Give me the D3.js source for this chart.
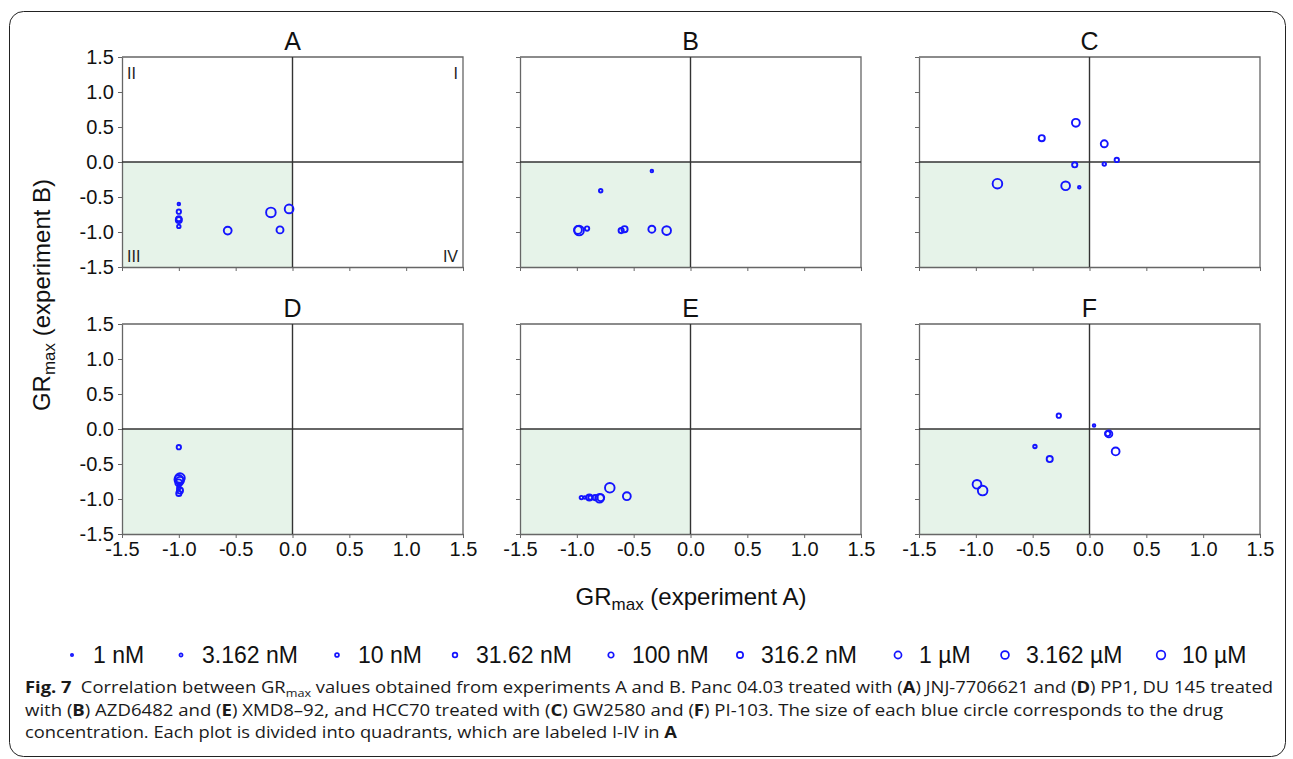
<!DOCTYPE html>
<html>
<head>
<meta charset="utf-8">
<script src="https://cdn.jsdelivr.net/npm/d3@7"></script>
<style>
  body { margin: 0; background: #fff; }
  svg { display: block; font-family: "Liberation Sans", Arial, sans-serif; }
</style>
</head>
<body>
<div id="chart"></div>
<script>
// 1. data (each array ordered by concentration, 1 nM ... 10 µM)
var concLabels = ["1 nM", "3.162 nM", "10 nM", "31.62 nM", "100 nM", "316.2 nM", "1 µM", "3.162 µM", "10 µM"];
var ticks = [-1.5, -1.0, -0.5, 0.0, 0.5, 1.0, 1.5];
var panelNames = ["A", "B", "C", "D", "E", "F"];

var xA = [-1.00, -1.00, -1.00, -1.00, -1.00, -0.11, -0.57, -0.03, -0.19];
var yA = [-0.60, -0.92, -0.71, -0.81, -0.83, -0.97, -0.98, -0.67, -0.72];
var xB = [-0.34, -0.79, -0.91, -0.61, -0.58, -0.34, -0.99, -0.21, -0.98];
var yB = [-0.13, -0.41, -0.95, -0.98, -0.96, -0.96, -0.97, -0.98, -0.98];
var xC = [-0.09, 0.13, 0.24, -0.13, -0.42, 0.13, -0.12, -0.21, -0.81];
var yC = [-0.36, -0.03, 0.03, -0.04, 0.34, 0.26, 0.56, -0.34, -0.31];
var xD = [-1.00, -1.00, -1.00, -1.00, -0.99, -1.00, -0.99, -1.00, -0.99];
var yD = [-0.80, -0.84, -0.26, -0.92, -0.88, -0.77, -0.74, -0.72, -0.70];
var xE = [-0.93, -0.96, -0.88, -0.84, -0.89, -0.79, -0.56, -0.80, -0.71];
var yE = [-0.98, -0.98, -0.98, -0.98, -0.98, -0.98, -0.96, -0.99, -0.84];
var xF = [0.04, -0.48, -0.27, 0.16, -0.35, 0.17, 0.23, -0.99, -0.94];
var yF = [0.05, -0.25, 0.19, -0.065, -0.43, -0.07, -0.32, -0.79, -0.88];

var panelX = [xA, xB, xC, xD, xE, xF];
var panelY = [yA, yB, yC, yD, yE, yF];

// 2. layout
var width = 1293, height = 759;
var colLeft = [122, 520, 919];
var rowTop = [57, 324];
var pw = 341, ph = 210;
var blue = "#1414ff";

var svg = d3.select("#chart").append("svg")
  .attr("width", width)
  .attr("height", height);

svg.append("rect")
  .attr("x", 9.5).attr("y", 11.5)
  .attr("width", 1276).attr("height", 745)
  .attr("rx", 14)
  .attr("fill", "#fff")
  .attr("stroke", "#222")
  .attr("stroke-width", 1);

var rScale = d3.scaleLinear().domain([0, 8]).range([1.3, 4.8]);

panelNames.forEach(function(name, i) {
  var col = i % 3, row = Math.floor(i / 3);
  var x = d3.scaleLinear().domain([-1.5, 1.5]).range([colLeft[col], colLeft[col] + pw]);
  var y = d3.scaleLinear().domain([-1.5, 1.5]).range([rowTop[row] + ph, rowTop[row]]);
  var g = svg.append("g");

  // quadrant III shading
  g.append("rect")
    .attr("x", x(-1.5)).attr("y", y(0))
    .attr("width", x(0) - x(-1.5)).attr("height", y(-1.5) - y(0))
    .attr("fill", "#e6f3e9");

  // axes
  var yAxis = d3.axisLeft(y).tickValues(ticks).tickSize(4).tickSizeOuter(0);
  var xAxis = d3.axisBottom(x).tickValues(ticks).tickSize(4).tickSizeOuter(0);

  var ya = g.append("g").attr("transform", "translate(" + x(-1.5) + ",0)").call(yAxis);
  var xa = g.append("g").attr("transform", "translate(0," + y(-1.5) + ")").call(xAxis);
  [ya, xa].forEach(function(a) {
    a.select(".domain").attr("stroke", "#666").attr("stroke-width", 1.3);
    a.selectAll(".tick line").attr("stroke", "#666");
    a.selectAll(".tick text")
      .attr("font-family", "Liberation Sans, Arial, sans-serif")
      .attr("font-size", 20)
      .attr("fill", "#111")
      .text(function(d) { return d3.format(".1f")(d).replace("\u2212", "-"); });
  });
  ya.selectAll(".tick text").attr("x", -8);
  xa.selectAll(".tick text").attr("y", 8).attr("dy", "0.71em");
  if (col !== 0) ya.selectAll(".tick text").remove();
  if (row === 0) xa.selectAll(".tick text").remove();

  // frame top/right
  g.append("path")
    .attr("d", "M" + x(-1.5) + "," + y(1.5) + "H" + x(1.5) + "V" + y(-1.5))
    .attr("fill", "none").attr("stroke", "#666").attr("stroke-width", 1.3);

  // zero lines
  g.append("line")
    .attr("x1", x(-1.5)).attr("x2", x(1.5)).attr("y1", y(0)).attr("y2", y(0))
    .attr("stroke", "#333").attr("stroke-width", 1.4);
  g.append("line")
    .attr("x1", x(0)).attr("x2", x(0)).attr("y1", y(-1.5)).attr("y2", y(1.5))
    .attr("stroke", "#333").attr("stroke-width", 1.4);

  // title
  g.append("text")
    .attr("x", x(0)).attr("y", y(1.5) - 7)
    .attr("text-anchor", "middle")
    .attr("font-size", 25)
    .attr("fill", "#111")
    .text(name);

  // quadrant labels in A
  if (i === 0) {
    var q = [["II", x(-1.5) + 5, y(1.5) + 22, "start"], ["I", x(1.5) - 5, y(1.5) + 22, "end"],
             ["III", x(-1.5) + 5, y(-1.5) - 5, "start"], ["IV", x(1.5) - 5, y(-1.5) - 5, "end"]];
    q.forEach(function(d) {
      g.append("text").attr("x", d[1]).attr("y", d[2]).attr("text-anchor", d[3])
        .attr("font-size", 16).attr("fill", "#222").text(d[0]);
    });
  }

  // points
  var pts = panelX[i].map(function(v, k) { return { x: v, y: panelY[i][k], c: k }; });
  g.selectAll("circle.pt")
    .data(pts)
    .enter().append("circle")
    .attr("class", "pt")
    .attr("cx", function(d) { return x(d.x); })
    .attr("cy", function(d) { return y(d.y); })
    .attr("r", function(d) { return rScale(d.c); })
    .attr("fill", "none")
    .attr("stroke", blue)
    .attr("stroke-width", 1.9);
});

// 3. axis titles
var yt = svg.append("text")
  .attr("transform", "translate(50,295) rotate(-90)")
  .attr("text-anchor", "middle")
  .attr("font-size", 24)
  .attr("fill", "#111");
yt.append("tspan").text("GR");
yt.append("tspan").attr("font-size", 17).attr("dy", 5).text("max");
yt.append("tspan").attr("dy", -5).text(" (experiment B)");

var xt = svg.append("text")
  .attr("x", 691).attr("y", 605)
  .attr("text-anchor", "middle")
  .attr("font-size", 24)
  .attr("fill", "#111");
xt.append("tspan").text("GR");
xt.append("tspan").attr("font-size", 17).attr("dy", 5).text("max");
xt.append("tspan").attr("dy", -5).text(" (experiment A)");

// 4. legend
var legX = [72, 181, 337, 455, 611, 740, 898, 1005, 1161];
var leg = svg.selectAll("g.leg")
  .data(concLabels)
  .enter().append("g")
  .attr("class", "leg")
  .attr("transform", function(d, k) { return "translate(" + legX[k] + ",655)"; });
leg.append("circle")
  .attr("r", function(d, k) { return rScale(k) * 0.9; })
  .attr("fill", "none")
  .attr("stroke", blue)
  .attr("stroke-width", 1.7);
leg.append("text")
  .attr("x", 21).attr("y", 8)
  .attr("font-size", 23)
  .attr("fill", "#111")
  .text(function(d) { return d; });

// 5. caption
var capFont = "'Open Sans', 'Noto Sans', sans-serif";
function capLine(y, len, parts) {
  var t = svg.append("text")
    .attr("x", 25).attr("y", y)
    .attr("font-family", capFont)
    .attr("font-size", 16)
    .attr("fill", "#1a1a1a")
    .attr("textLength", len)
    .attr("lengthAdjust", "spacingAndGlyphs");
  parts.forEach(function(p) {
    var s = t.append("tspan").text(p[0]);
    if (p[1] === "b") s.attr("font-weight", "bold");
    if (p[1] === "sub") s.attr("font-size", 11).attr("dy", 4);
    if (p[1] === "up") s.attr("dy", -4);
  });
}
capLine(693, 1248, [
  ["Fig. 7", "b"], ["\u2002Correlation between GR"], ["max", "sub"],
  [" values obtained from experiments A and B. Panc 04.03 treated with (", "up"], ["A", "b"],
  [") JNJ-7706621 and ("], ["D", "b"], [") PP1, DU 145 treated"]
]);
capLine(716, 1198, [
  ["with ("], ["B", "b"], [") AZD6482 and ("], ["E", "b"], [") XMD8\u201392, and HCC70 treated with ("],
  ["C", "b"], [") GW2580 and ("], ["F", "b"], [") PI-103. The size of each blue circle corresponds to the drug"]
]);
capLine(738, 652, [
  ["concentration. Each plot is divided into quadrants, which are labeled I-IV in "], ["A", "b"]
]);
</script>
</body>
</html>
